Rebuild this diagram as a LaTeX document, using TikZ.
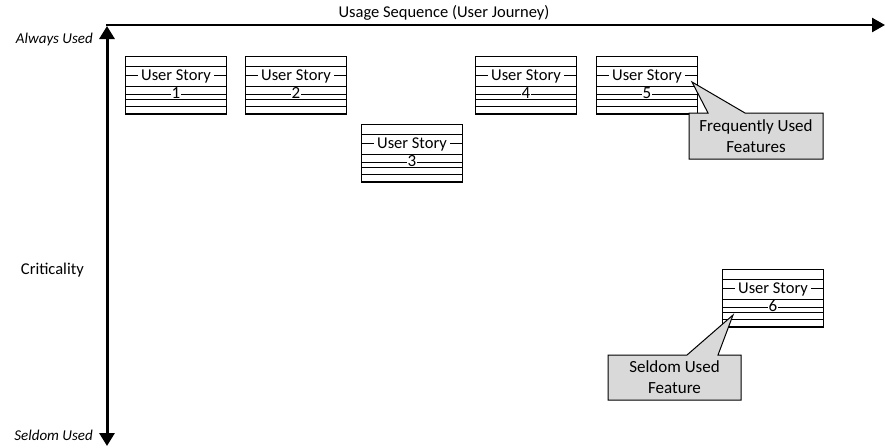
\documentclass[tikz,border=0pt]{standalone}
\usepackage{fontspec}
\setmainfont{Carlito}
\usetikzlibrary{arrows.meta}
\definecolor{calloutgray}{HTML}{D9D9D9}
\tikzset{
  storyframe/.style={draw=black, line width=1pt, minimum width=101pt, minimum height=57pt, inner sep=0pt, anchor=north west},
  rowline/.style={line width=0.9pt},
  bottomline/.style={line width=2pt},
  storytext/.style={fill=white, inner xsep=3pt, inner ysep=0pt, anchor=base, font=\fontsize{16.5}{18}\selectfont},
  storynum/.style={fill=white, inner xsep=1pt, inner ysep=0pt, anchor=base, font=\fontsize{17}{19}\selectfont},
  axis/.style={line width=2.6pt, -{Triangle[length=13pt,width=14pt]}},
  vaxis/.style={line width=3pt, {Triangle[length=13pt,width=15pt]}-{Triangle[length=13pt,width=15pt]}},
  axislabel/.style={font=\fontsize{16.5}{18}\selectfont, inner sep=0pt},
  endlabel/.style={font=\fontsize{15}{17}\selectfont\itshape, inner sep=0pt, anchor=east},
  callout/.style={draw=black, line width=1pt, fill=calloutgray},
  callouttext/.style={font=\fontsize{17}{21}\selectfont, align=center, inner sep=0pt},
}
\newcommand\storybox[4]{%
  \node[storyframe] (#1) at (#2,#3) {};
  \draw[rowline] ([yshift=-10pt]#1.north west) -- ([yshift=-10pt]#1.north east);
  \draw[rowline] ([yshift=-19pt]#1.north west) -- ([yshift=-19pt]#1.north east);
  \draw[rowline] ([yshift=-30pt]#1.north west) -- ([yshift=-30pt]#1.north east);
  \draw[rowline] ([yshift=-38pt]#1.north west) -- ([yshift=-38pt]#1.north east);
  \node[storytext] (#1t) at ([yshift=-24.7pt]#1.north) {User Story};
  \node[storynum] (#1n) at ([yshift=-42.8pt]#1.north) {#4};
  \draw[rowline] ([yshift=-43.6pt]#1.north west) -- ([yshift=-43.6pt]#1.north east);
  \draw[rowline] ([yshift=-50pt]#1.north west) -- ([yshift=-50pt]#1.north east);
  \draw[bottomline] (#1.south west) -- (#1.south east);
}
\begin{document}
\begin{tikzpicture}[x=1pt,y=-1pt]
  \useasboundingbox (0,0) rectangle (885,447);
  % axes
  \coordinate (origin) at (106,25);
  \coordinate (hend) at (885,25);
  \coordinate (vtop) at (107,26);
  \coordinate (vbot) at (107,446);
  \draw[axis] (origin) -- (hend);
  \draw[vaxis] (vtop) -- (vbot);
  \node[axislabel] (title) at (444,13) {Usage Sequence (User Journey)};
  \node[endlabel] (always) at (93,40) {Always Used};
  \node[endlabel] (seldom) at (93,435) {Seldom Used};
  \node[axislabel, anchor=east] (crit) at (84,270) {Criticality};
  % story boxes
  \storybox{s1}{125}{56}{1}
  \storybox{s2}{245}{56}{2}
  \storybox{s3}{361}{124}{3}
  \storybox{s4}{475}{56}{4}
  \storybox{s5}{596}{56}{5}
  \storybox{s6}{722}{269}{6}
  % callouts
  \coordinate (tip1) at (692,82);
  \draw[callout] (689,113) -- (708,113) -- (tip1) -- (745,113) -- (823,113) -- (823,159) -- (689,159) -- cycle;
  \node[callouttext] (c1) at (756,136.5) {Frequently Used\\Features};
  \coordinate (tip2) at (733,315);
  \draw[callout] (608,355) -- (687,355) -- (tip2) -- (718,355) -- (741,355) -- (741,400) -- (608,400) -- cycle;
  \node[callouttext] (c2) at (674.5,377) {Seldom Used\\Feature};
\end{tikzpicture}
\end{document}
